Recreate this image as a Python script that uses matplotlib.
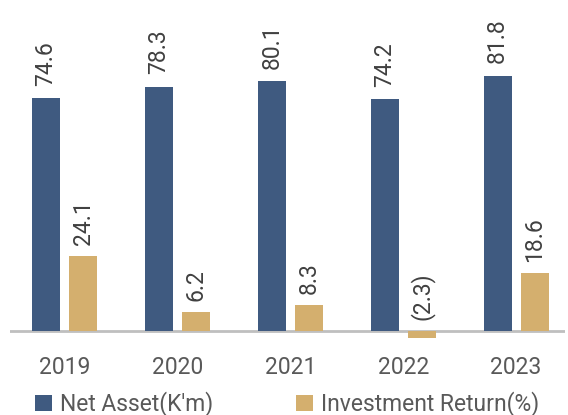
import numpy as np
import matplotlib.pyplot as plt

plt.rcParams['font.family'] = ['Roboto', 'DejaVu Sans']
FS = 16.5

years = ['2019', '2020', '2021', '2022', '2023']
net_asset = [74.6, 78.3, 80.1, 74.2, 81.8]
inv_return = [24.1, 6.2, 8.3, -2.3, 18.6]
ret_labels = ['24.1', '6.2', '8.3', '(2.3)', '18.6']

blue = '#3F5A80'
tan = '#D4AF6E'

fig = plt.figure(figsize=(5.68, 4.15), dpi=100)
W, H = 568, 415
# axes box in pixels: x 10..565, y 0..345
ax = fig.add_axes([10 / W, (H - 345) / H, 555 / W, 345 / H])

x = np.arange(len(years))
bw = 0.248
off = (bw + 0.08) / 2
b1 = ax.bar(x - off, net_asset, bw, color=blue, label="Net Asset(K'm)")
b2 = ax.bar(x + off, inv_return, bw, color=tan, label='Investment Return(%)')
ax.axhline(0, color='#BFBFBF', lw=2, zorder=0)

for i in range(len(years)):
    ax.annotate(f'{net_asset[i]:.1f}', (x[i] - off, net_asset[i]), xytext=(0, 9),
                textcoords='offset points', rotation=90, ha='center', va='bottom',
                fontsize=FS, color='#404040')
    ax.annotate(ret_labels[i], (x[i] + off, max(inv_return[i], 0)), xytext=(0, 8),
                textcoords='offset points', rotation=90, ha='center', va='bottom',
                fontsize=FS, color='#404040')

ax.set_xlim(-0.483, 4.433)
ax.set_ylim(-(345 - 331) / 3.12, 331 / 3.12)
ax.set_xticks(x)
ax.set_xticklabels(years, fontsize=FS, color='#595959')
ax.tick_params(axis='x', length=0, pad=8)
ax.set_yticks([])
for s in ax.spines.values():
    s.set_visible(False)

leg_kw = dict(loc='center left', frameon=False, fontsize=FS, handlelength=0.75,
              handleheight=0.75, handletextpad=0.35, borderpad=0, borderaxespad=0,
              labelcolor='#595959')
l1 = fig.legend([b1], ["Net Asset(K'm)"], bbox_to_anchor=(35 / W, (H - 404) / H), **leg_kw)
fig.legend([b2], ['Investment Return(%)'], bbox_to_anchor=(296 / W, (H - 404) / H), **leg_kw)

fig.savefig('out.png', dpi=100)
